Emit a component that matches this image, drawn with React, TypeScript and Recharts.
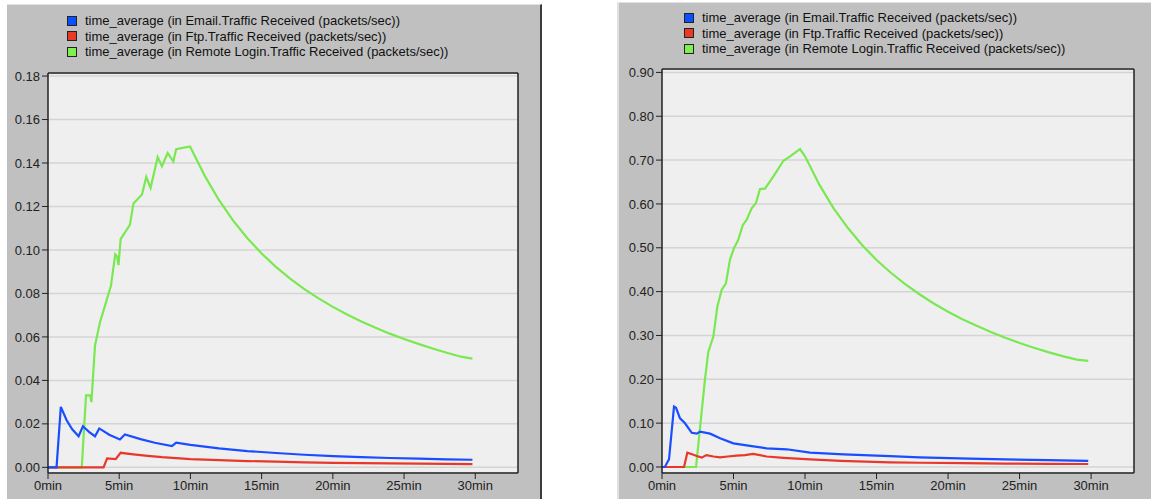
import { LineChart, Line, XAxis, YAxis, CartesianGrid, ReferenceLine } from 'recharts'

const FONT = '"Liberation Sans", Arial, sans-serif'

const seriesNames = [
  'time_average (in Email.Traffic Received (packets/sec))',
  'time_average (in Ftp.Traffic Received (packets/sec))',
  'time_average (in Remote Login.Traffic Received (packets/sec))',
]
const lineColours = ['#1a4dff', '#e8382b', '#7ae850']
const boxColours = ['#0a50ff', '#e83a26', '#80f050']

const xTicks = [0, 5, 10, 15, 20, 25, 30]
const leftYTicks = [0, 0.02, 0.04, 0.06, 0.08, 0.1, 0.12, 0.14, 0.16, 0.18]
const rightYTicks = [0, 0.1, 0.2, 0.3, 0.4, 0.5, 0.6, 0.7, 0.8, 0.9]

// left panel (minutes / packets per sec)
const leftEmailT = [0, 0.6, 0.9, 1.3, 1.7, 2.15, 2.45, 2.9, 3.3, 3.6, 4.3, 5.05, 5.4, 6.5, 7.5, 8.7, 9.0, 10, 12, 14, 16, 18, 20, 22, 24, 26, 28, 29.8]
const leftEmailV = [0, 0, 0.0278, 0.0218, 0.0175, 0.0143, 0.0189, 0.0162, 0.0143, 0.0179, 0.015, 0.0128, 0.0151, 0.013, 0.0113, 0.0098, 0.0114, 0.0103, 0.0087, 0.0075, 0.0066, 0.0058, 0.0052, 0.0047, 0.0043, 0.004, 0.0037, 0.0035]

const leftFtpT = [0, 3.9, 4.15, 4.75, 5.1, 6, 7, 8, 10, 12, 14, 16, 18, 20, 22, 24, 26, 28, 29.8]
const leftFtpV = [0, 0, 0.0041, 0.0038, 0.0067, 0.006, 0.0053, 0.0047, 0.0038, 0.0033, 0.0029, 0.0026, 0.0023, 0.0021, 0.0019, 0.0018, 0.0017, 0.0016, 0.0015]

const leftRemoteT = [0, 2.37, 2.67, 2.95, 3.05, 3.3, 3.65, 4.42, 4.72, 4.85, 4.95, 5.1, 5.75, 6.0, 6.6, 6.9, 7.2, 7.7, 8.0, 8.4, 8.8, 9.0, 9.97, 11, 12, 13, 14, 15, 16, 17, 18, 19, 20, 21, 22, 23, 24, 25, 26, 27, 28, 29, 29.8]
const leftRemoteV = [0, 0, 0.0331, 0.0331, 0.03, 0.056, 0.0667, 0.0835, 0.098, 0.097, 0.093, 0.105, 0.1115, 0.1214, 0.1255, 0.1336, 0.1285, 0.1427, 0.1385, 0.1446, 0.1407, 0.1464, 0.1476, 0.1342, 0.123, 0.1135, 0.1054, 0.0984, 0.0922, 0.0868, 0.082, 0.0777, 0.0738, 0.0703, 0.0671, 0.0642, 0.0615, 0.059, 0.0568, 0.0547, 0.0527, 0.0509, 0.05]

// right panel
const rightEmailT = [0, 0.2, 0.49, 0.84, 0.98, 1.26, 1.61, 2.08, 2.43, 2.66, 3.36, 4.06, 4.99, 6.15, 7.32, 8.72, 10.35, 12.7, 15.94, 18, 21.5, 24, 27, 29.8]
const rightEmailV = [0, 0, 0.0176, 0.1377, 0.135, 0.111, 0.0997, 0.078, 0.076, 0.0806, 0.076, 0.0655, 0.054, 0.048, 0.0426, 0.0404, 0.0327, 0.029, 0.025, 0.022, 0.019, 0.0172, 0.0155, 0.014]

const rightFtpT = [0, 1.54, 1.77, 2.1, 2.43, 2.78, 3.1, 3.6, 4.06, 4.6, 5.2, 5.8, 6.36, 7.32, 8.5, 10.35, 12.5, 15.94, 18, 21, 24, 27, 29.8]
const rightFtpV = [0, 0, 0.0327, 0.029, 0.025, 0.0213, 0.027, 0.024, 0.022, 0.024, 0.026, 0.027, 0.0297, 0.024, 0.021, 0.0175, 0.014, 0.0107, 0.0097, 0.0087, 0.0079, 0.0073, 0.0068]

const rightRemoteT = [0, 2.38, 3.0, 3.24, 3.59, 3.87, 4.17, 4.47, 4.75, 5.03, 5.33, 5.64, 5.92, 6.27, 6.57, 6.85, 7.2, 7.79, 8.49, 8.95, 9.65, 10.0, 11, 12, 13, 14, 15, 16, 17, 18, 19, 20, 21, 22, 23, 24, 25, 26, 27, 28, 29, 29.8]
const rightRemoteV = [0, 0, 0.1986, 0.263, 0.2975, 0.366, 0.404, 0.419, 0.4726, 0.499, 0.518, 0.551, 0.564, 0.59, 0.602, 0.634, 0.635, 0.663, 0.6986, 0.7085, 0.725, 0.7085, 0.644, 0.59, 0.545, 0.506, 0.472, 0.443, 0.417, 0.394, 0.373, 0.354, 0.337, 0.322, 0.308, 0.295, 0.283, 0.272, 0.262, 0.253, 0.245, 0.242]

const zip = (t: number[], v: number[]) => t.map((x, i) => ({ t: x, v: v[i] }))

const X_MAX = 33

interface PanelProps {
  left: number
  width: number
  margin: { top: number; right: number; bottom: number; left: number }
  yDomain: [number, number]
  yTicks: number[]
  decimals: number
  series: { t: number; v: number }[][]
  legendLeft: number
  legendTop: number
}

function Legend({ left, top }: { left: number; top: number }) {
  return (
    <div style={{ position: 'absolute', left, top, fontFamily: FONT, fontSize: 13, color: '#111', lineHeight: '15.5px' }}>
      {seriesNames.map((name, i) => (
        <div key={i} style={{ display: 'flex', alignItems: 'center', whiteSpace: 'nowrap' }}>
          <span style={{ display: 'inline-block', width: 8, height: 8, background: boxColours[i], border: '1px solid #222', marginRight: 8 }} />
          {name}
        </div>
      ))}
    </div>
  )
}

function Panel({ left, width, margin, yDomain, yTicks, decimals, series, legendLeft, legendTop }: PanelProps) {
  const tick = { fill: '#222', fontSize: 13, fontFamily: FONT }
  // draw order: remote login underneath, email on top
  const order = [2, 1, 0]
  return (
    <div style={{ position: 'absolute', left, top: 0 }}>
      <LineChart width={width} height={499} margin={margin}>
        <CartesianGrid horizontal vertical={false} fill="#efefef" stroke="#d4d4d4" strokeWidth={1.5} />
        <XAxis
          type="number" dataKey="t" domain={[0, X_MAX]} ticks={xTicks} allowDataOverflow
          tickFormatter={v => `${v}min`} tick={tick} tickSize={6} height={24}
          axisLine={{ stroke: '#222', strokeWidth: 1.5 }} tickLine={{ stroke: '#222' }}
        />
        <YAxis
          type="number" domain={yDomain} ticks={yTicks} allowDataOverflow
          tickFormatter={v => Number(v).toFixed(decimals)} tick={tick} tickSize={6} width={40}
          axisLine={{ stroke: '#222', strokeWidth: 1.5 }} tickLine={{ stroke: '#222' }}
        />
        <ReferenceLine y={yDomain[1]} stroke="#222" strokeWidth={1.5} />
        <ReferenceLine x={X_MAX} stroke="#222" strokeWidth={1.5} />
        {order.map(i => (
          <Line
            key={i} data={series[i]} dataKey="v" type="linear" stroke={lineColours[i]}
            strokeWidth={2.2} dot={false} activeDot={false} isAnimationActive={false}
          />
        ))}
      </LineChart>
      <Legend left={legendLeft} top={legendTop} />
    </div>
  )
}

export default function App() {
  return (
    <div style={{ position: 'absolute', left: 0, top: 0, width: 1151, height: 499, background: '#fff', overflow: 'hidden' }}>
      <div style={{ position: 'absolute', left: 7, top: 4, width: 533, height: 495, background: '#c0c0c0', borderTop: '1px solid #e2e2e2', borderRight: '2px solid #3c3c3c' }} />
      <div style={{ position: 'absolute', left: 617, top: 2, width: 534, height: 497, background: '#c0c0c0', borderTop: '1px solid #e2e2e2', borderLeft: '2px solid #e2e2e2' }} />
      <Panel
        left={0} width={541}
        margin={{ top: 73, right: 23, bottom: 2, left: 8 }}
        yDomain={[-0.0026, 0.1814]} yTicks={leftYTicks} decimals={2}
        series={[zip(leftEmailT, leftEmailV), zip(leftFtpT, leftFtpV), zip(leftRemoteT, leftRemoteV)]}
        legendLeft={67} legendTop={13}
      />
      <Panel
        left={614} width={537}
        margin={{ top: 69, right: 17, bottom: 2, left: 8 }}
        yDomain={[-0.0137, 0.9078]} yTicks={rightYTicks} decimals={2}
        series={[zip(rightEmailT, rightEmailV), zip(rightFtpT, rightFtpV), zip(rightRemoteT, rightRemoteV)]}
        legendLeft={70} legendTop={10}
      />
    </div>
  )
}
